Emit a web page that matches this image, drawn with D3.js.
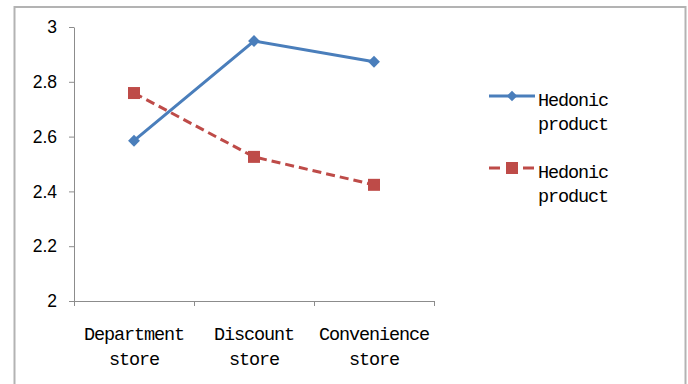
<!DOCTYPE html>
<html>
<head>
<meta charset="utf-8">
<script src="https://cdn.jsdelivr.net/npm/d3@7"></script>
<style>
  body { margin: 0; background: #fff; }
  svg { display: block; }
</style>
</head>
<body>
<svg id="chart" width="688" height="384"></svg>
<script>
// data
var categories = [["Department", "store"], ["Discount", "store"], ["Convenience", "store"]];
var seriesNames = ["Hedonic product", "Hedonic product"];
var blueValues = [2.585, 2.949, 2.873];
var redValues = [2.759, 2.526, 2.424];
var yTicks = [2, 2.2, 2.4, 2.6, 2.8, 3];

var svg = d3.select("#chart");
var blue = "#4a7ebb", red = "#be4b48";
var monoFont = "'Liberation Mono', 'DejaVu Sans Mono', monospace";
var monoSize = "18.5px", monoSpacing = "-1.1px";

// outer frame
svg.append("rect")
  .attr("x", 14.5).attr("y", 7)
  .attr("width", 671).attr("height", 400)
  .attr("fill", "none")
  .attr("stroke", "#b3b3b3")
  .attr("stroke-width", 2);

var keys = categories.map(function(c) { return c.join(" "); });
var x = d3.scaleBand().domain(keys).range([74, 434]);
var y = d3.scaleLinear().domain([2, 3]).range([301, 27]);

// y axis
var yAxis = svg.append("g")
  .attr("transform", "translate(74,0)")
  .call(d3.axisLeft(y).tickValues(yTicks).tickSize(5).tickSizeOuter(0).tickPadding(12)
    .tickFormat(function(d) { return +d.toFixed(1); }));
yAxis.select(".domain").attr("stroke", "#8c8c8c");
yAxis.selectAll(".tick line").attr("stroke", "#8c8c8c");
yAxis.selectAll("text")
  .attr("font-family", "'Liberation Sans', Arial, sans-serif")
  .attr("font-size", "17.5px")
  .attr("fill", "#000");

// x axis: line plus ticks between categories
var xg = svg.append("g");
xg.append("line")
  .attr("x1", x.range()[0]).attr("x2", x.range()[1])
  .attr("y1", y(2) + 0.5).attr("y2", y(2) + 0.5)
  .attr("stroke", "#8c8c8c");
var bounds = keys.map(function(k) { return x(k); }).concat([x.range()[1]]);
xg.selectAll(".xtick").data(bounds).enter().append("line")
  .attr("x1", function(d) { return d + 0.5; }).attr("x2", function(d) { return d + 0.5; })
  .attr("y1", y(2)).attr("y2", y(2) + 5)
  .attr("stroke", "#8c8c8c");

var xl = xg.selectAll(".xlab").data(categories).enter().append("text")
  .attr("text-anchor", "middle")
  .attr("font-family", monoFont)
  .attr("font-size", monoSize)
  .attr("letter-spacing", monoSpacing)
  .attr("fill", "#000");
xl.each(function(d, i) {
  var t = d3.select(this);
  var cx = x(keys[i]) + x.bandwidth() / 2;
  d.forEach(function(w, j) {
    t.append("tspan").attr("x", cx).attr("y", 340 + j * 25).text(w);
  });
});

var line = d3.line()
  .x(function(d, i) { return x(keys[i]) + x.bandwidth() / 2; })
  .y(function(d) { return y(d); });

// blue series
svg.append("path").datum(blueValues)
  .attr("d", line)
  .attr("fill", "none").attr("stroke", blue).attr("stroke-width", 3);
svg.selectAll(".dia").data(blueValues).enter().append("path")
  .attr("d", d3.symbol().type(d3.symbolDiamond2).size(90))
  .attr("transform", function(d, i) { return "translate(" + (x(keys[i]) + x.bandwidth() / 2) + "," + y(d) + ")"; })
  .attr("fill", blue);

// red series
svg.append("path").datum(redValues)
  .attr("d", line)
  .attr("fill", "none").attr("stroke", red).attr("stroke-width", 3)
  .attr("stroke-dasharray", "9,5");
svg.selectAll(".sq").data(redValues).enter().append("rect")
  .attr("x", function(d, i) { return x(keys[i]) + x.bandwidth() / 2 - 6; })
  .attr("y", function(d) { return y(d) - 6; })
  .attr("width", 12).attr("height", 12)
  .attr("fill", red);

// legend
var legend = svg.append("g");
var legY = [96, 168];
seriesNames.forEach(function(name, i) {
  var g = legend.append("g").attr("transform", "translate(0," + legY[i] + ")");
  var col = i === 0 ? blue : red;
  g.append("line")
    .attr("x1", 489).attr("x2", 535).attr("y1", 0).attr("y2", 0)
    .attr("stroke", col).attr("stroke-width", 3)
    .attr("stroke-dasharray", i === 0 ? null : "11,6");
  if (i === 0) {
    g.append("path").attr("d", d3.symbol().type(d3.symbolDiamond2).size(70))
      .attr("transform", "translate(512,0)").attr("fill", col);
  } else {
    g.append("rect").attr("x", 506).attr("y", -6).attr("width", 12).attr("height", 12).attr("fill", col);
  }
  var t = g.append("text")
    .attr("font-family", monoFont)
    .attr("font-size", monoSize)
    .attr("letter-spacing", monoSpacing)
    .attr("fill", "#000");
  name.split(" ").forEach(function(w, j) {
    t.append("tspan").attr("x", 538).attr("y", 10 + j * 24).text(w);
  });
});
</script>
</body>
</html>
